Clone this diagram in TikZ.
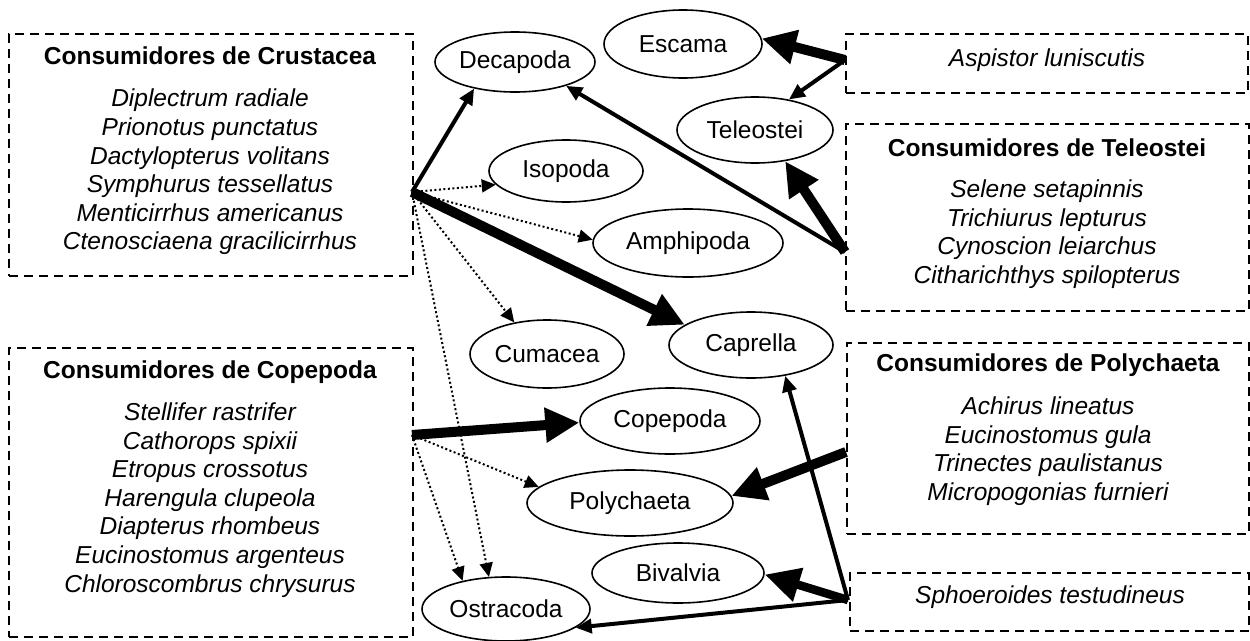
\documentclass[tikz,border=0pt]{standalone}
\usepackage{fontspec}
\setmainfont{Liberation Sans}
\usetikzlibrary{arrows.meta,shapes.geometric}
\begin{document}
\begin{tikzpicture}[x=1pt,y=-1pt,
  every node/.style={font=\fontsize{24.5}{28.6}\selectfont},
  taxon/.style={draw,ellipse,line width=1.6pt,inner sep=0pt},
  cbox/.style={draw,line width=1.8pt,dash pattern=on 9pt off 6pt,inner sep=0pt},
  head/.style={font=\fontsize{24.5}{28.6}\selectfont\bfseries},
  spp/.style={align=center,font=\fontsize{24.5}{28.6}\selectfont\itshape},
  lnkweak/.style={line width=2pt,dash pattern=on 2pt off 2.5pt,-{Triangle[length=14pt,width=13pt]}},
  lnkmid/.style={line width=4pt,-{Triangle[length=16pt,width=14pt]}},
  lnkstrong/.style={line width=10pt,-{Triangle[length=34pt,width=33pt]}},
  lnkstrongb/.style={line width=8.5pt,-{Triangle[length=35pt,width=33pt]}},
]
\useasboundingbox (0,0) rectangle (1250,640);

% boxes
\node[cbox,anchor=north west,minimum width=404pt,minimum height=242pt] (crbox) at (8,33) {};
\node[cbox,anchor=north west,minimum width=404pt,minimum height=289pt] (cpbox) at (8,347) {};
\node[cbox,anchor=north west,minimum width=402pt,minimum height=59pt] (asbox) at (845,33) {};
\node[cbox,anchor=north west,minimum width=403pt,minimum height=187pt] (tlbox) at (845,123) {};
\node[cbox,anchor=north west,minimum width=402pt,minimum height=191pt] (pobox) at (846,342) {};
\node[cbox,anchor=north west,minimum width=399pt,minimum height=58pt] (spbox) at (849,572) {};

% box texts
\node[head] (crhead) at (210,56) {Consumidores de Crustacea};
\node[spp] (crlist) at (210,172) {Diplectrum radiale\\Prionotus punctatus\\Dactylopterus volitans\\Symphurus tessellatus\\Menticirrhus americanus\\Ctenosciaena gracilicirrhus};
\node[head] (cphead) at (210,372) {Consumidores de Copepoda};
\node[spp] (cplist) at (210,500) {Stellifer rastrifer\\Cathorops spixii\\Etropus crossotus\\Harengula clupeola\\Diapterus rhombeus\\Eucinostomus argenteus\\Chloroscombrus chrysurus};
\node[spp] (astext) at (1047,60) {Aspistor luniscutis};
\node[head] (tlhead) at (1047,148) {Consumidores de Teleostei};
\node[spp] (tllist) at (1047,234) {Selene setapinnis\\Trichiurus lepturus\\Cynoscion leiarchus\\Citharichthys spilopterus};
\node[head] (pohead) at (1048,365) {Consumidores de Polychaeta};
\node[spp] (polist) at (1048,451) {Achirus lineatus\\Eucinostomus gula\\Trinectes paulistanus\\Micropogonias furnieri};
\node[spp] (sptext) at (1050,597) {Sphoeroides testudineus};

% prey taxa
\node[taxon,minimum width=160pt,minimum height=60pt] (decapoda) at (515,62) {Decapoda};
\node[taxon,minimum width=158pt,minimum height=68pt] (escama) at (683,44) {Escama};
\node[taxon,minimum width=156pt,minimum height=66pt] (teleostei) at (755,130) {Teleostei};
\node[taxon,minimum width=154pt,minimum height=62pt] (isopoda) at (566,171) {Isopoda};
\node[taxon,minimum width=190pt,minimum height=68pt] (amphipoda) at (688,243) {Amphipoda};
\node[taxon,minimum width=154pt,minimum height=68pt] (cumacea) at (547,354) {Cumacea};
\node[taxon,minimum width=164pt,minimum height=66pt] (caprella) at (751,345) {Caprella};
\node[taxon,minimum width=180pt,minimum height=66pt] (copepoda) at (670,421) {Copepoda};
\node[taxon,minimum width=206pt,minimum height=66pt] (polychaeta) at (630,503) {Polychaeta};
\node[taxon,minimum width=172pt,minimum height=60pt] (bivalvia) at (678,573) {Bivalvia};
\node[taxon,minimum width=168pt,minimum height=64pt] (ostracoda) at (506,609) {Ostracoda};

% source points on box edges
\coordinate (crsrc) at (412,192);
\coordinate (cpsrc) at (412,435);
\coordinate (assrc) at (845,60);
\coordinate (tlsrc) at (845,252);
\coordinate (posrc) at (846,452);
\coordinate (spsrc) at (848,600);

% links
\draw[lnkmid] (crsrc) -- (decapoda.213);
\draw[lnkweak] (crsrc) -- (isopoda.191);
\draw[lnkweak] (crsrc) -- (amphipoda.178);
\draw[lnkstrong] (crsrc) -- (caprella.163);
\draw[lnkweak] (crsrc) -- (cumacea.136);
\draw[lnkweak] (crsrc) -- (ostracoda.118);
\draw[lnkstrong] (cpsrc) -- (copepoda.181);
\draw[lnkweak] (cpsrc) -- (polychaeta.170);
\draw[lnkweak] (cpsrc) -- (ostracoda.147);
\draw[lnkmid] (tlsrc) -- (decapoda.335);
\draw[lnkstrong] (tlsrc) -- (teleostei.314);
\draw[lnkstrong] (assrc) -- (escama.4);
\draw[lnkmid] (assrc) -- (teleostei.42);
\draw[lnkstrong] (posrc) -- (polychaeta.4);
\draw[lnkstrongb] (spsrc) -- (bivalvia.359);
\draw[lnkmid] (spsrc) -- (ostracoda.345);
\draw[lnkmid] (spsrc) -- (caprella.318);
\end{tikzpicture}
\end{document}
